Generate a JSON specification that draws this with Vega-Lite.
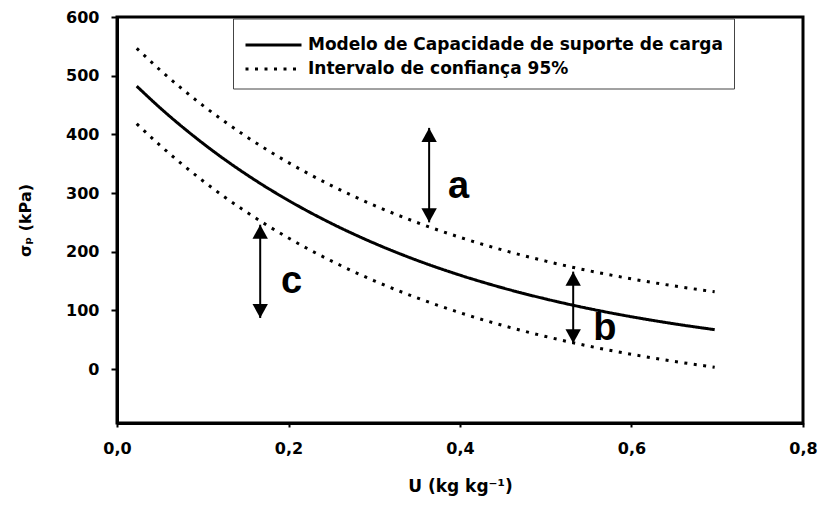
{
  "$schema": "https://vega.github.io/schema/vega-lite/v6.json",
  "width": 686,
  "height": 406,
  "autosize": {"type": "none"},
  "padding": {"left": 117, "top": 17, "right": 19, "bottom": 85},
  "background": "white",
  "config": {"view": {"stroke": "black", "strokeWidth": 3}, "font": "DejaVu Sans"},
  "layer": [
    {
      "data": {"values": [
        {"u": 0.023, "sp": 482.1, "serie": "Modelo de Capacidade de suporte de carga", "curva": "m"},
        {"u": 0.05, "sp": 445.5, "serie": "Modelo de Capacidade de suporte de carga", "curva": "m"},
        {"u": 0.1, "sp": 384.9, "serie": "Modelo de Capacidade de suporte de carga", "curva": "m"},
        {"u": 0.15, "sp": 332.5, "serie": "Modelo de Capacidade de suporte de carga", "curva": "m"},
        {"u": 0.2, "sp": 287.3, "serie": "Modelo de Capacidade de suporte de carga", "curva": "m"},
        {"u": 0.25, "sp": 248.2, "serie": "Modelo de Capacidade de suporte de carga", "curva": "m"},
        {"u": 0.3, "sp": 214.4, "serie": "Modelo de Capacidade de suporte de carga", "curva": "m"},
        {"u": 0.35, "sp": 185.2, "serie": "Modelo de Capacidade de suporte de carga", "curva": "m"},
        {"u": 0.4, "sp": 160.0, "serie": "Modelo de Capacidade de suporte de carga", "curva": "m"},
        {"u": 0.45, "sp": 138.2, "serie": "Modelo de Capacidade de suporte de carga", "curva": "m"},
        {"u": 0.5, "sp": 119.4, "serie": "Modelo de Capacidade de suporte de carga", "curva": "m"},
        {"u": 0.55, "sp": 103.1, "serie": "Modelo de Capacidade de suporte de carga", "curva": "m"},
        {"u": 0.6, "sp": 89.1, "serie": "Modelo de Capacidade de suporte de carga", "curva": "m"},
        {"u": 0.65, "sp": 77.0, "serie": "Modelo de Capacidade de suporte de carga", "curva": "m"},
        {"u": 0.697, "sp": 67.1, "serie": "Modelo de Capacidade de suporte de carga", "curva": "m"},
        {"u": 0.023, "sp": 546.6, "serie": "Intervalo de confiança 95%", "curva": "sup"},
        {"u": 0.05, "sp": 510.0, "serie": "Intervalo de confiança 95%", "curva": "sup"},
        {"u": 0.1, "sp": 449.4, "serie": "Intervalo de confiança 95%", "curva": "sup"},
        {"u": 0.15, "sp": 397.0, "serie": "Intervalo de confiança 95%", "curva": "sup"},
        {"u": 0.2, "sp": 351.8, "serie": "Intervalo de confiança 95%", "curva": "sup"},
        {"u": 0.25, "sp": 312.7, "serie": "Intervalo de confiança 95%", "curva": "sup"},
        {"u": 0.3, "sp": 278.9, "serie": "Intervalo de confiança 95%", "curva": "sup"},
        {"u": 0.35, "sp": 249.7, "serie": "Intervalo de confiança 95%", "curva": "sup"},
        {"u": 0.4, "sp": 224.5, "serie": "Intervalo de confiança 95%", "curva": "sup"},
        {"u": 0.45, "sp": 202.7, "serie": "Intervalo de confiança 95%", "curva": "sup"},
        {"u": 0.5, "sp": 183.9, "serie": "Intervalo de confiança 95%", "curva": "sup"},
        {"u": 0.55, "sp": 167.6, "serie": "Intervalo de confiança 95%", "curva": "sup"},
        {"u": 0.6, "sp": 153.6, "serie": "Intervalo de confiança 95%", "curva": "sup"},
        {"u": 0.65, "sp": 141.5, "serie": "Intervalo de confiança 95%", "curva": "sup"},
        {"u": 0.697, "sp": 131.6, "serie": "Intervalo de confiança 95%", "curva": "sup"},
        {"u": 0.023, "sp": 418.1, "serie": "Intervalo de confiança 95%", "curva": "inf"},
        {"u": 0.05, "sp": 381.5, "serie": "Intervalo de confiança 95%", "curva": "inf"},
        {"u": 0.1, "sp": 320.9, "serie": "Intervalo de confiança 95%", "curva": "inf"},
        {"u": 0.15, "sp": 268.5, "serie": "Intervalo de confiança 95%", "curva": "inf"},
        {"u": 0.2, "sp": 223.3, "serie": "Intervalo de confiança 95%", "curva": "inf"},
        {"u": 0.25, "sp": 184.2, "serie": "Intervalo de confiança 95%", "curva": "inf"},
        {"u": 0.3, "sp": 150.4, "serie": "Intervalo de confiança 95%", "curva": "inf"},
        {"u": 0.35, "sp": 121.2, "serie": "Intervalo de confiança 95%", "curva": "inf"},
        {"u": 0.4, "sp": 96.0, "serie": "Intervalo de confiança 95%", "curva": "inf"},
        {"u": 0.45, "sp": 74.2, "serie": "Intervalo de confiança 95%", "curva": "inf"},
        {"u": 0.5, "sp": 55.4, "serie": "Intervalo de confiança 95%", "curva": "inf"},
        {"u": 0.55, "sp": 39.1, "serie": "Intervalo de confiança 95%", "curva": "inf"},
        {"u": 0.6, "sp": 25.1, "serie": "Intervalo de confiança 95%", "curva": "inf"},
        {"u": 0.65, "sp": 13.0, "serie": "Intervalo de confiança 95%", "curva": "inf"},
        {"u": 0.697, "sp": 3.1, "serie": "Intervalo de confiança 95%", "curva": "inf"}
      ]},
      "mark": {"type": "line", "interpolate": "monotone", "color": "black", "strokeWidth": 3},
      "encoding": {
        "x": {
          "field": "u", "type": "quantitative",
          "scale": {"domain": [0, 0.8], "nice": false, "zero": false},
          "axis": {
            "values": [0, 0.2, 0.4, 0.6, 0.8],
            "labelExpr": "replace(format(datum.value, '.1f'), '.', ',')",
            "title": "U (kg kg⁻¹)",
            "grid": false, "labelFlush": false, "labelOverlap": false,
            "domainColor": "black", "domainWidth": 3,
            "tickColor": "black", "tickWidth": 2, "tickSize": 4,
            "labelFont": "DejaVu Sans", "labelFontWeight": "bold", "labelFontSize": 16, "labelColor": "black", "labelPadding": 13,
            "titleFont": "DejaVu Sans", "titleFontWeight": "bold", "titleFontSize": 17, "titleColor": "black", "titlePadding": 22
          }
        },
        "y": {
          "field": "sp", "type": "quantitative",
          "scale": {"domain": [-92, 600], "nice": false, "zero": false},
          "axis": {
            "values": [0, 100, 200, 300, 400, 500, 600],
            "title": "σₚ (kPa)",
            "grid": false, "labelFlush": false, "labelOverlap": false,
            "domainColor": "black", "domainWidth": 3,
            "tickColor": "black", "tickWidth": 2, "tickSize": 6,
            "labelFont": "DejaVu Sans", "labelFontWeight": "bold", "labelFontSize": 16, "labelColor": "black", "labelPadding": 12,
            "titleFont": "DejaVu Sans", "titleFontWeight": "bold", "titleFontSize": 16, "titleColor": "black", "titlePadding": 32
          }
        },
        "detail": {"field": "curva", "type": "nominal"},
        "strokeDash": {
          "field": "serie", "type": "nominal",
          "scale": {"domain": ["Modelo de Capacidade de suporte de carga", "Intervalo de confiança 95%"], "range": [[1, 0], [3, 6.5]]},
          "legend": {
            "title": null, "orient": "none", "legendX": 116, "legendY": 1.5,
            "symbolType": "M-2,0L2,0", "symbolSize": 784, "symbolStrokeWidth": 3, "symbolStrokeColor": "black", "symbolFillColor": "transparent",
            "symbolOffset": 14,
            "labelFont": "DejaVu Sans", "labelFontWeight": "bold", "labelFontSize": 17, "labelColor": "black",
            "labelOffset": 19, "labelLimit": 0, "padding": 11, "rowPadding": 0,
            "fillColor": "white", "strokeColor": "#444444"
          }
        }
      }
    },
    {
      "data": {"values": [
        {"u": 0.364, "sp": 411, "bot": 250},
        {"u": 0.532, "sp": 166, "bot": 44},
        {"u": 0.167, "sp": 246, "bot": 87}
      ]},
      "mark": {"type": "rule", "color": "black", "strokeWidth": 2},
      "encoding": {
        "x": {"field": "u", "type": "quantitative"},
        "y": {"field": "sp", "type": "quantitative"},
        "y2": {"field": "bot"}
      }
    },
    {
      "data": {"values": [
        {"u": 0.364, "sp": 411},
        {"u": 0.532, "sp": 166},
        {"u": 0.167, "sp": 246}
      ]},
      "mark": {"type": "point", "shape": "M0,0L-0.55,1L0.55,1Z", "size": 784, "filled": true, "color": "black", "opacity": 1, "strokeWidth": 0},
      "encoding": {
        "x": {"field": "u", "type": "quantitative"},
        "y": {"field": "sp", "type": "quantitative"}
      }
    },
    {
      "data": {"values": [
        {"u": 0.364, "sp": 250},
        {"u": 0.532, "sp": 44},
        {"u": 0.167, "sp": 87}
      ]},
      "mark": {"type": "point", "shape": "M0,0L-0.55,-1L0.55,-1Z", "size": 784, "filled": true, "color": "black", "opacity": 1, "strokeWidth": 0},
      "encoding": {
        "x": {"field": "u", "type": "quantitative"},
        "y": {"field": "sp", "type": "quantitative"}
      }
    },
    {
      "data": {"values": [
        {"u": 0.386, "sp": 291.5, "t": "a"},
        {"u": 0.5555, "sp": 48.8, "t": "b"},
        {"u": 0.1913, "sp": 129.5, "t": "c"}
      ]},
      "mark": {"type": "text", "align": "left", "baseline": "alphabetic", "font": "Liberation Sans", "fontWeight": "bold", "fontSize": 38, "color": "black"},
      "encoding": {
        "x": {"field": "u", "type": "quantitative"},
        "y": {"field": "sp", "type": "quantitative"},
        "text": {"field": "t"}
      }
    }
  ]
}
